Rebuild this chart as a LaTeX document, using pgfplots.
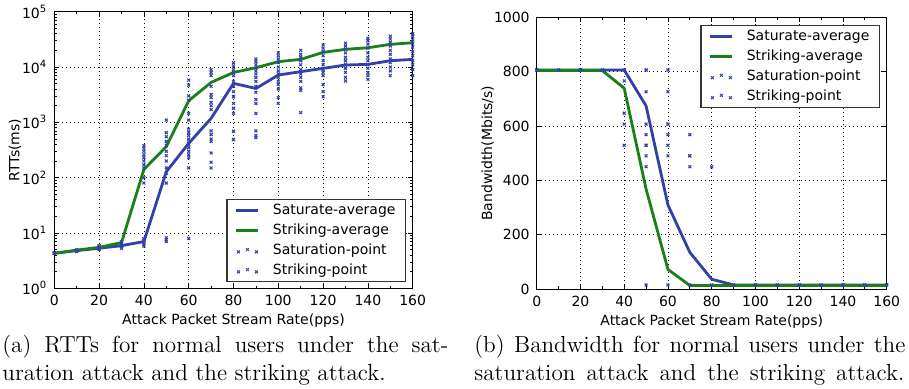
\documentclass[border=0pt]{standalone}
\usepackage{fontspec}
\usepackage{pgfplots}
\pgfplotsset{compat=1.18}
\newfontfamily\dejavu{DejaVu Sans}
\newfontfamily\capfont{Latin Modern Roman}
\definecolor{mblue}{RGB}{50,65,170}
\definecolor{mgreen}{RGB}{25,128,25}

\pgfplotsset{
  mystyle/.style={
    scale only axis,
    axis line style={black, line width=0.5pt},
    tick style={black, line width=0.4pt},
    major tick length=2.5pt, minor tick length=1.3pt,
    grid=major,
    major grid style={black, line width=0.4pt, dash pattern=on 0.5pt off 1.5pt},
    ticklabel style={font=\dejavu\fontsize{7}{8}\selectfont},
    label style={font=\dejavu\fontsize{7}{8}\selectfont},
    xlabel style={yshift=3pt},
    /pgf/number format/assume math mode=true,
    /pgf/number format/1000 sep={},
    xmin=0, xmax=160, xtick={0,20,...,160}, minor x tick num=1,
    xlabel={Attack Packet Stream Rate(pps)},
    legend cell align=left,
    legend style={font=\dejavu\fontsize{7}{8}\selectfont, draw=black!80, line width=0.6pt, fill=white,
      inner xsep=4pt, inner ysep=1pt, row sep=1pt,
      nodes={inner sep=1pt, text height=5.5pt, text depth=1.5pt},
      /tikz/every odd column/.append style={column sep=5.5pt}},
    legend image code/.code={\draw[##1] (0pt,0pt) -- (11pt,0pt);},
  },
  avg/.style={line width=1.4pt},
  pts/.style={only marks, mark=x, mark size=1pt, color=mblue, mark options={line width=0.55pt}, forget plot},
  ptslegend/.style={legend image code/.code={\draw[mblue, line width=0.5pt] plot[mark=x, mark size=1pt, only marks] coordinates {(1pt,-0.6pt) (5.5pt,0.6pt) (10pt,-0.6pt)};}},
}

\begin{document}
\begin{tikzpicture}
\useasboundingbox (0pt,0pt) rectangle (454.5pt,-194pt);

% ---------------- left: RTTs ----------------
\begin{axis}[mystyle, at={(27.15pt,-144.15pt)}, anchor=south west,
  width=179.2pt, height=138.3pt,
  ymode=log, ymin=1, ymax=1e5, ytick={1,10,100,1000,10000,100000},
  yticklabels={10\textsuperscript{0},10\textsuperscript{1},10\textsuperscript{2},10\textsuperscript{3},10\textsuperscript{4},10\textsuperscript{5}},
  ylabel={RTTs(ms)},
  ylabel style={at={(axis description cs:-0.11,0.5)}, anchor=center, rotate=0},
  legend style={at={(0.9816,0.0217)}, anchor=south east}]
\addplot[pts] table {
x y
0 4.3
0 4.4
10 4.6
10 4.8
10 5.0
20 5.0
20 5.3
20 5.6
30 5.3
30 5.7
30 6.1
40 5.8
40 6.3
40 6.8
40 7.3
40 7.9
50 7.0
50 7.6
50 8.2
50 80
50 120
50 150
50 200
60 8.0
60 150
60 230
60 260
60 300
60 350
60 400
60 450
60 500
60 580
60 650
60 750
70 150
70 190
70 280
70 450
70 500
70 600
70 700
70 1700
70 2000
80 490
80 690
80 1450
80 1800
80 2200
80 2900
80 3600
80 4500
90 530
90 580
90 700
90 1450
90 2200
90 2600
90 3500
90 4500
100 2200
100 2800
100 4000
100 4800
100 5500
100 6500
100 7500
110 1500
110 3800
110 4200
110 5500
110 6500
110 7500
110 9000
120 2900
120 3600
120 4800
120 7000
120 8000
120 9000
120 11000
130 5600
130 6500
130 8000
130 9500
130 11000
130 13000
140 6000
140 7000
140 8000
140 9500
140 11000
140 13000
150 7000
150 8500
150 10000
150 12000
150 14000
160 7000
160 9000
160 11000
160 13000
160 16000
};
\addplot[pts] table {
x y
0 4.3
10 4.9
20 5.5
20 5.9
30 6.5
30 7.0
40 80
40 100
40 150
40 170
40 200
40 230
40 260
40 300
40 340
40 380
50 250
50 300
50 380
50 450
50 550
50 650
50 1100
60 1100
60 1450
60 2500
60 3000
60 4700
60 5800
70 2300
70 2800
70 3200
70 4500
70 7000
70 8000
70 9000
80 5500
80 7000
80 8000
80 9000
80 10500
80 12000
90 5500
90 6500
90 7500
90 8500
90 9500
90 11000
90 12500
90 14000
100 8500
100 10000
100 12000
100 14000
100 16000
100 18000
110 11000
110 13000
110 15000
110 17000
110 20000
120 13000
120 16000
120 19000
120 22000
120 25000
130 15000
130 18000
130 21000
130 24000
130 27000
140 15000
140 18000
140 22000
140 26000
140 30000
140 33000
150 17000
150 20000
150 24000
150 28000
150 32000
150 36000
160 19000
160 23000
160 27000
160 31000
160 36000
160 40000
};
\addplot[avg, mblue] table {
x y
0 4.3
10 4.8
20 5.3
30 5.9
40 7.0
50 128
60 417
70 1180
80 5070
90 4100
100 7170
110 8240
120 9460
130 10870
140 11170
150 13000
160 13760
};
\addlegendentry{Saturate-average}
\addplot[avg, mgreen] table {
x y
0 4.3
10 4.9
20 5.5
30 6.7
40 141
50 364
60 2460
70 5270
80 7980
90 9720
100 12500
110 13760
120 18400
130 20900
140 22300
150 25700
160 27500
};
\addlegendentry{Striking-average}
\addlegendimage{ptslegend}
\addlegendentry{Saturation-point}
\addlegendimage{ptslegend}
\addlegendentry{Striking-point}
\end{axis}

% ---------------- right: Bandwidth ----------------
\begin{axis}[mystyle, at={(268.35pt,-144.5pt)}, anchor=south west,
  width=175pt, height=135.85pt,
  ymin=0, ymax=1000, ytick={0,200,...,1000},
  ylabel={Bandwidth(Mbits/s)},
  ylabel style={at={(axis description cs:-0.14,0.5)}, anchor=center, rotate=0},
  legend style={at={(0.981,0.972)}, anchor=north east}]
\addplot[pts] table {
x y
0 806
10 806
20 806
30 806
40 806
40 766
50 806
50 726
50 607
50 568
50 529
50 490
50 450
60 806
60 726
60 607
60 568
60 529
60 490
70 568
70 490
70 450
80 450
90 15
100 15
110 15
120 15
130 15
140 15
150 15
160 15
};
\addplot[pts] table {
x y
0 806
10 806
20 806
30 806
40 647
40 607
40 529
50 806
50 529
50 15
60 607
60 15
70 490
70 15
80 15
90 15
100 15
110 15
120 15
130 15
140 15
150 15
160 15
};
\addplot[avg, mblue] table {
x y
0 806
10 806
20 806
30 806
40 806
50 674
60 309
70 135
80 36
90 15
100 15
110 15
120 15
130 15
140 15
150 15
160 15
};
\addlegendentry{Saturate-average}
\addplot[avg, mgreen] table {
x y
0 804
10 804
20 804
30 804
40 739
50 368
60 72
70 13
80 13
90 13
100 13
110 13
120 13
130 13
140 13
150 13
160 13
};
\addlegendentry{Striking-average}
\addlegendimage{ptslegend}
\addlegendentry{Saturation-point}
\addlegendimage{ptslegend}
\addlegendentry{Striking-point}
\end{axis}

% ---------------- captions ----------------
\begin{scope}[every node/.style={anchor=base west, inner sep=0pt, font=\capfont\fontsize{11.6}{13.9}\selectfont}]
\node at (1pt,-176.35pt) {\makebox[223pt][s]{(a) RTTs for normal users under the sat-}};
\node at (1pt,-190pt) {uration attack and the striking attack.};
\node at (237pt,-176.35pt) {\makebox[215.5pt][s]{(b) Bandwidth for normal users under the}};
\node at (237pt,-190pt) {\makebox[215pt][s]{saturation attack and the striking attack.}};
\end{scope}
\end{tikzpicture}
\end{document}
